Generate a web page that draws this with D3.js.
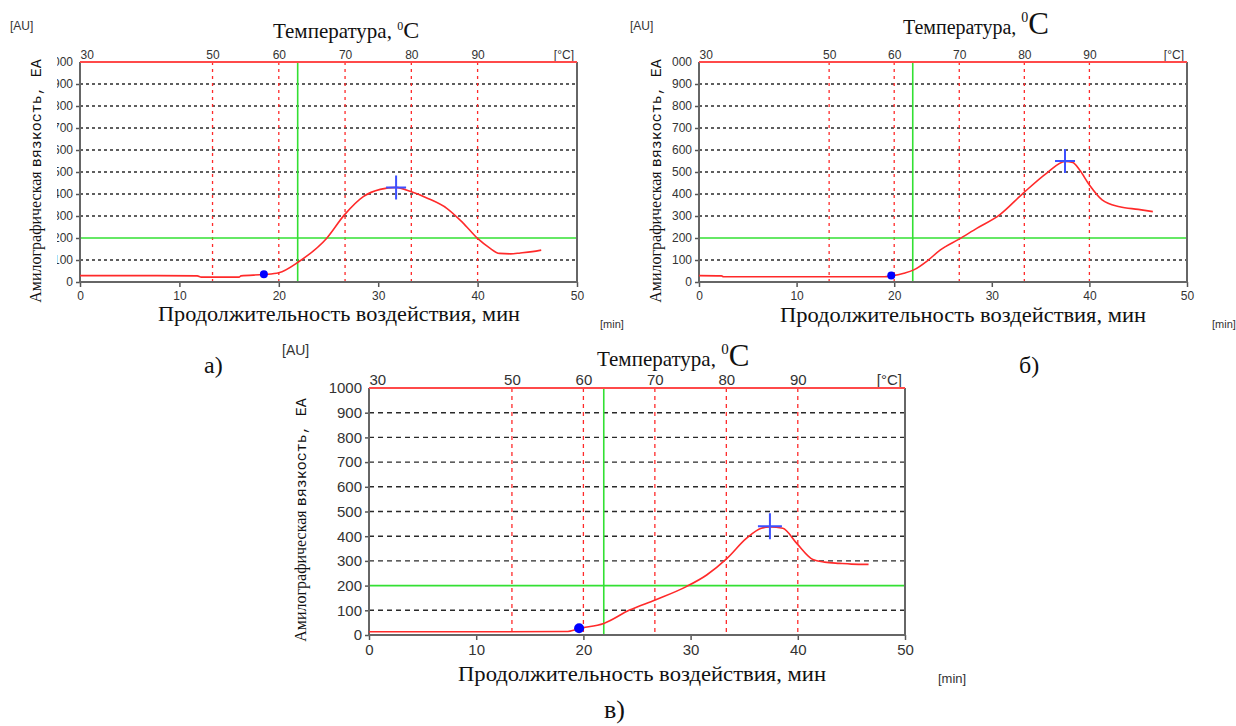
<!DOCTYPE html>
<html>
<head>
<meta charset="utf-8">
<script src="https://cdn.jsdelivr.net/npm/d3@7"></script>
<style>
  body { margin: 0; background: #fff; }
  svg { display: block; }
</style>
</head>
<body>
<div id="chart"></div>
<script>

// ---- data (time in min -> viscosity in AU) ----
var timeA = [0, 5, 11.8, 12.2, 16, 16.2, 18.5, 20, 22, 24.8, 26.6, 28.5, 30.2, 31.8, 33.2, 35, 36.9, 38.5, 40, 41.2, 42.2, 43.3, 44.3, 45.5, 46.4];
var viscA = [29, 29, 28, 22, 22, 28, 34, 42, 92, 198, 305, 388, 421, 430, 412, 380, 335, 270, 198, 155, 130, 128, 132, 138, 145];

var timeB = [0, 2.3, 2.5, 10, 19, 19.7, 21, 22, 23.5, 24.7, 26.6, 28.5, 30.8, 33.2, 35.6, 37.5, 38.3, 39, 40, 41.3, 43.1, 45, 46.5];
var viscB = [29, 28, 24, 24, 24, 28, 40, 55, 100, 145, 194, 245, 305, 403, 494, 548, 543, 509, 441, 373, 342, 330, 320];

var timeC = [0, 10, 18.4, 19.7, 21.9, 24.3, 26.7, 29.6, 31.5, 33.4, 35.2, 36.6, 37.4, 38.6, 39.9, 41.4, 42.5, 43.9, 45, 46.6];
var viscC = [13, 13, 14, 27, 47, 101, 142, 196, 243, 310, 391, 432, 437, 432, 371, 306, 295, 290, 287, 286];

// start of gelatinization (blue dot) and peak (blue cross): [time, AU]
var minA = [18.5, 35],  peakA = [31.8, 430];
var minB = [19.7, 29],  peakB = [37.5, 550];
var minC = [19.6, 27],  peakC = [37.4, 440];

var timeTicks = [0, 10, 20, 30, 40, 50];
var viscTicks = [0, 100, 200, 300, 400, 500, 600, 700, 800, 900, 1000];
var viscGrid  = [100, 300, 400, 500, 600, 700, 800, 900];
var tempTicks = [30, 50, 60, 70, 80, 90];
var tempGrid  = [50, 60, 70, 80, 90];
var refLevel = 200;     // green horizontal line
var markTime = 21.9;    // green vertical line
// temperature program: 30 C + 1.5 C/min, so 50 min -> 105 C
var tempDomain = [30, 105];

var svg = d3.select("#chart").append("svg")
    .attr("width", 1236)
    .attr("height", 726);

var sans = "'Liberation Sans Narrow', 'Liberation Sans', Arial, sans-serif";
var serif = "'Liberation Serif', 'Times New Roman', serif";
var mono = "'Liberation Mono', 'Courier New', monospace";

function drawPanel(p) {
    var x = d3.scaleLinear().domain([0, 50]).range([p.left, p.right]);
    var y = d3.scaleLinear().domain([0, 1000]).range([p.bottom, p.top]);
    var tx = d3.scaleLinear().domain(tempDomain).range([p.left, p.right]);

    var g = svg.append("g").attr("id", p.id);

    // clip for the left tick labels (cut by the axis title in the original)
    g.append("clipPath").attr("id", "clip_" + p.id)
      .append("rect")
      .attr("x", p.clipX).attr("y", 0)
      .attr("width", 1236).attr("height", 726);

    // dashed horizontal grid
    g.selectAll(".hgrid")
      .data(viscGrid)
      .enter().append("line")
      .attr("x1", p.left).attr("x2", p.right)
      .attr("y1", d => y(d)).attr("y2", d => y(d))
      .attr("stroke", "#2a2a2a")
      .attr("stroke-width", 1.4)
      .attr("stroke-dasharray", p.dash);

    // red dashed temperature verticals
    g.selectAll(".vgrid")
      .data(tempGrid)
      .enter().append("line")
      .attr("x1", d => tx(d)).attr("x2", d => tx(d))
      .attr("y1", p.top).attr("y2", p.bottom)
      .attr("stroke", "#ff2a2a")
      .attr("stroke-width", 1.3)
      .attr("stroke-dasharray", p.rdash);

    // green marker lines
    g.append("line")
      .attr("x1", p.left).attr("x2", p.right)
      .attr("y1", y(refLevel)).attr("y2", y(refLevel))
      .attr("stroke", "#33e033").attr("stroke-width", 1.6);
    g.append("line")
      .attr("x1", x(markTime)).attr("x2", x(markTime))
      .attr("y1", p.top).attr("y2", p.bottom)
      .attr("stroke", "#33e033").attr("stroke-width", 1.6);

    // left / bottom axes
    var yAxis = g.append("g")
      .attr("clip-path", "url(#clip_" + p.id + ")")
      .append("g")
      .attr("transform", "translate(" + p.left + ",0)")
      .call(d3.axisLeft(y).tickValues(viscTicks).tickFormat(d3.format("d")).tickSize(4).tickPadding(3));
    yAxis.select(".domain").remove();
    yAxis.selectAll("line").attr("stroke", "#555").attr("stroke-width", 1.5);
    yAxis.selectAll("text")
      .style("font-family", sans).style("font-size", p.tickFont + "px").attr("fill", "#333");
    yAxis.selectAll(".tick").filter(d => d == 1000).select("line").remove();

    var xAxis = g.append("g")
      .attr("transform", "translate(0," + p.bottom + ")")
      .call(d3.axisBottom(x).tickValues(timeTicks).tickSize(5).tickPadding(4));
    xAxis.select(".domain").remove();
    xAxis.selectAll("line").attr("stroke", "#555").attr("stroke-width", 1.5);
    xAxis.selectAll("text")
      .style("font-family", sans).style("font-size", p.tickFont + "px").attr("fill", "#333");

    // top temperature axis
    var tAxis = g.append("g")
      .attr("transform", "translate(0," + p.top + ")")
      .call(d3.axisTop(tx).tickValues(tempTicks).tickSize(0).tickPadding(3));
    tAxis.select(".domain").remove();
    tAxis.selectAll("text")
      .style("font-family", sans).style("font-size", p.tickFont + "px").attr("fill", "#333");
    tAxis.selectAll(".tick").filter(d => d == 30).select("text").attr("text-anchor", "start");
    g.append("text")
      .attr("x", p.right - 3).attr("y", p.top - 3)
      .attr("text-anchor", "end")
      .style("font-family", sans).style("font-size", p.tickFont + "px").attr("fill", "#333")
      .text("[°C]");

    // frame
    g.append("path")
      .attr("d", "M" + p.left + "," + p.top + "V" + p.bottom + "H" + p.right + "V" + p.top)
      .attr("fill", "none").attr("stroke", "#666").attr("stroke-width", 2);
    g.append("line")
      .attr("x1", p.left).attr("x2", p.right)
      .attr("y1", y(1000)).attr("y2", y(1000))
      .attr("stroke", "#ff4a4a").attr("stroke-width", 2);

    // the curve
    var pts = p.time.map((t, i) => [t, p.visc[i]]);
    g.append("path")
      .datum(pts)
      .attr("fill", "none")
      .attr("stroke", "#ff2a2a")
      .attr("stroke-width", 1.6)
      .attr("d", d3.line().x(d => x(d[0])).y(d => y(d[1])).curve(d3.curveMonotoneX));

    // markers
    g.append("circle")
      .attr("cx", x(p.min[0])).attr("cy", y(p.min[1]))
      .attr("r", p.dotR).attr("fill", "#0000ff");
    var cx = x(p.peak[0]), cy = y(p.peak[1]);
    g.append("path")
      .attr("d", "M" + (cx - p.crossW) + "," + cy + "H" + (cx + p.crossW) +
                 "M" + cx + "," + (cy - p.crossH) + "V" + (cy + p.crossH))
      .attr("stroke", "#3d50ff").attr("stroke-width", 2).attr("fill", "none");

    // texts around the chart
    g.append("text")
      .attr("x", p.au[0]).attr("y", p.au[1])
      .style("font-family", sans).style("font-size", p.smallFont + "px").attr("fill", "#333")
      .text("[AU]");
    g.append("text")
      .attr("x", p.minLbl[0]).attr("y", p.minLbl[1])
      .style("font-family", sans).style("font-size", (p.smallFont - 1) + "px").attr("fill", "#333")
      .text("[min]");

    var tt = g.append("text")
      .attr("x", p.tTitle[0]).attr("y", p.tTitle[1])
      .style("font-family", serif).attr("fill", "#111");
    tt.append("tspan").style("font-size", p.tTitle[2] + "px").text("Температура, ");
    tt.append("tspan").style("font-size", p.tTitle[3] + "px").attr("dy", -p.tTitle[4]).text("0");
    tt.append("tspan").style("font-size", p.tTitle[5] + "px").attr("dy", p.tTitle[4]).text("C");

    g.append("text")
      .attr("x", p.xTitle[0]).attr("y", p.xTitle[1])
      .attr("textLength", p.xTitle[2]).attr("lengthAdjust", "spacingAndGlyphs")
      .style("font-family", serif).style("font-size", "21px").attr("fill", "#111")
      .text("Продолжительность воздействия, мин");

    var yt = g.append("text")
      .attr("transform", "translate(" + p.yTitle[0] + "," + p.yTitle[1] + ")rotate(-90)")
      .attr("text-anchor", "middle")
      .attr("fill", "#111");
    yt.append("tspan").style("font-family", serif).style("font-size", "16px").text("Амилографическая ");
    yt.append("tspan").style("font-family", mono).style("font-size", "15px").text("вязкость, ЕА");

    svg.append("text")
      .attr("x", p.tag[0]).attr("y", p.tag[1])
      .style("font-family", serif).style("font-size", p.tag[2] + "px").attr("fill", "#111")
      .text(p.tag[3]);
}

drawPanel({
    id: "a", left: 80, right: 577, top: 62, bottom: 282, clipX: 57,
    time: timeA, visc: viscA, min: minA, peak: peakA,
    dash: "3,3", rdash: "3,4", tickFont: 12, smallFont: 12,
    dotR: 4, crossW: 10, crossH: 12,
    au: [10, 30], minLbl: [600, 328],
    tTitle: [273, 38, 21, 12, 8, 24],
    xTitle: [158, 321, 362], yTitle: [41, 181],
    tag: [204, 373, 24, "а)"]
});

drawPanel({
    id: "b", left: 699, right: 1187, top: 62, bottom: 282, clipX: 672,
    time: timeB, visc: viscB, min: minB, peak: peakB,
    dash: "3,3", rdash: "3,4", tickFont: 12, smallFont: 12,
    dotR: 4, crossW: 10, crossH: 12,
    au: [630, 30], minLbl: [1212, 328],
    tTitle: [903, 34, 20, 14, 12, 31],
    xTitle: [780, 322, 366], yTitle: [661, 181],
    tag: [1019, 373, 24, "б)"]
});

drawPanel({
    id: "c", left: 369, right: 905, top: 388, bottom: 635, clipX: 0,
    time: timeC, visc: viscC, min: minC, peak: peakC,
    dash: "5,4", rdash: "4,4", tickFont: 15, smallFont: 14,
    dotR: 5, crossW: 12, crossH: 13,
    au: [282, 355], minLbl: [938, 683],
    tTitle: [597, 366, 21, 15, 12, 31],
    xTitle: [458, 681, 368], yTitle: [306, 520],
    tag: [604, 718, 26, "в)"]
});

</script>
</body>
</html>
